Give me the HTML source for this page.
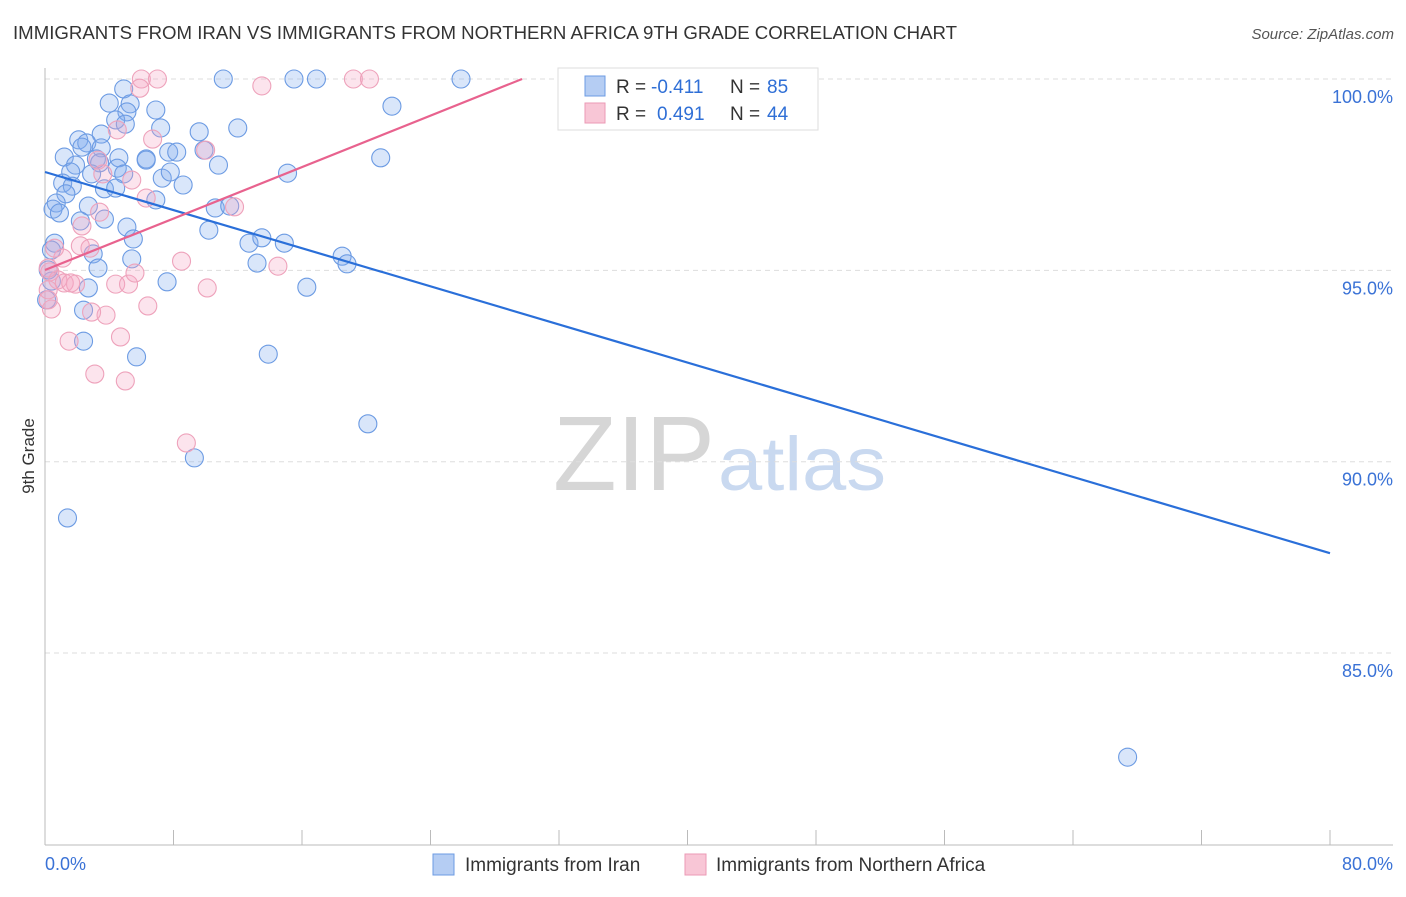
<!DOCTYPE html>
<html><head><meta charset="utf-8"><style>
body{margin:0;background:#fff;font-family:"Liberation Sans",sans-serif}
svg text{font-family:"Liberation Sans",sans-serif}
</style></head><body>
<svg id="chart" width="1406" height="892" viewBox="0 0 1406 892" xmlns="http://www.w3.org/2000/svg">
<text x="13" y="39" font-size="18" fill="#333" textLength="944" lengthAdjust="spacingAndGlyphs">IMMIGRANTS FROM IRAN VS IMMIGRANTS FROM NORTHERN AFRICA 9TH GRADE CORRELATION CHART</text>
<text x="1394" y="39" font-size="15" font-style="italic" fill="#555" text-anchor="end">Source: ZipAtlas.com</text>
<g>
<text x="553" y="490" font-size="106" font-family="Liberation Serif" fill="#d6d6d6" textLength="162" lengthAdjust="spacingAndGlyphs">ZIP</text>
<text x="718" y="490" font-size="76" fill="#c9d9f0" textLength="168" lengthAdjust="spacingAndGlyphs">atlas</text>
</g>
<g id="grid"></g>
<g id="axes"></g>
<g id="pts"></g>
<g id="lines"></g>
<text transform="translate(34,456) rotate(-90)" font-size="17" fill="#333" text-anchor="middle">9th Grade</text>
<g>
<rect x="558" y="68" width="260" height="62" fill="#fff" stroke="#ddd"/>
<rect x="585" y="76" width="20" height="20" fill="#b5cdf3" stroke="#6c9be3"/>
<rect x="585" y="103" width="20" height="20" fill="#f8c6d6" stroke="#eb9ab5"/>
<text x="616" y="93" font-size="19" fill="#333">R =</text>
<text x="651" y="93" font-size="19" fill="#2f6fd6">-0.411</text>
<text x="730" y="93" font-size="19" fill="#333">N =</text>
<text x="767" y="93" font-size="19" fill="#2f6fd6">85</text>
<text x="616" y="120" font-size="19" fill="#333">R =</text>
<text x="657" y="120" font-size="19" fill="#2f6fd6">0.491</text>
<text x="730" y="120" font-size="19" fill="#333">N =</text>
<text x="767" y="120" font-size="19" fill="#2f6fd6">44</text>
</g>
<g>
<rect x="433" y="854" width="21" height="21" fill="#b5cdf3" stroke="#6c9be3"/>
<text x="465" y="871" font-size="19" fill="#333">Immigrants from Iran</text>
<rect x="685" y="854" width="21" height="21" fill="#f8c6d6" stroke="#eb9ab5"/>
<text x="716" y="871" font-size="19" fill="#333">Immigrants from Northern Africa</text>
</g>
</svg>
<script>
const blueX=[4.9,4.0,5.3,6.9,5.1,4.4,5.0,3.5,2.1,2.6,2.3,3.5,1.2,3.2,4.6,6.3,1.9,3.4,4.5,1.6,2.9,4.9,1.1,1.7,3.7,4.4,1.3,0.7,0.5,0.9,2.7,2.2,3.7,5.1,0.6,0.4,3.0,5.4,3.3,2.7,2.4,2.4,5.7,1.4,11.1,15.5,16.9,25.9,21.6,9.6,12.0,7.2,7.7,8.2,6.3,9.9,10.8,8.6,7.3,7.8,6.9,10.6,11.5,10.2,12.7,13.5,14.9,13.2,18.5,18.8,15.1,20.9,7.6,16.3,13.9,20.1,9.3,67.4,0.4,0.2,5.5,0.1];
const blueY=[99.74,99.37,99.35,99.19,99.14,98.93,98.82,98.56,98.41,98.33,98.22,98.2,97.96,97.91,97.94,97.91,97.75,97.81,97.67,97.57,97.52,97.52,97.28,97.2,97.13,97.15,97.0,96.76,96.6,96.5,96.68,96.29,96.34,96.13,95.71,95.53,95.43,95.3,95.06,94.54,93.96,93.15,92.74,88.53,100,100,100,100,99.29,98.62,98.72,98.72,98.09,98.09,97.88,98.14,97.75,97.23,97.41,97.57,96.84,96.63,96.68,96.05,95.71,95.85,95.71,95.19,95.37,95.17,97.54,97.94,94.7,94.56,92.81,90.99,90.1,82.28,94.72,95.01,95.82,94.23];
const pinkX=[6.0,7.0,19.2,20.2,39.3,13.5,5.9,4.5,6.7,10.0,11.8,5.4,6.3,3.3,3.6,3.4,2.3,2.2,2.8,1.1,0.3,0.8,1.2,1.9,4.4,5.2,5.6,8.5,14.5,10.1,6.4,3.8,2.9,1.5,4.7,3.1,5.0,8.8,0.4,0.2,0.6,0.2,1.6,0.2];
const pinkY=[100,100,100,100,100,99.82,99.76,98.67,98.43,98.14,96.66,97.36,96.89,97.88,97.52,96.52,96.16,95.64,95.58,95.32,94.96,94.75,94.67,94.64,94.64,94.64,94.93,95.24,95.11,94.54,94.07,93.83,93.91,93.15,93.26,92.29,92.11,90.49,93.99,94.23,95.58,95.06,94.67,94.49];
const blueTrend=[0,97.57,80,87.61];
const pinkTrend=[0,95.01,29.7,100];
const yTicks=[100,95,90,85];
const xTickLabels=["0.0%","80.0%"];
const NS="http://www.w3.org/2000/svg";
const sx=v=>45+v*(1285/80);
const sy=v=>79+(100-v)*38.27;
function mk(tag,attrs,parent){const e=document.createElementNS(NS,tag);for(const k in attrs)e.setAttribute(k,attrs[k]);parent.appendChild(e);return e;}
const grid=document.getElementById('grid'),axes=document.getElementById('axes'),pts=document.getElementById('pts'),lines=document.getElementById('lines');
yTicks.forEach(t=>{
 const l=mk('line',{x1:45,x2:1393,y1:sy(t),y2:sy(t),stroke:'#ddd','stroke-dasharray':'5,4'},grid);
 
 
 const tx=mk('text',{x:1393,y:sy(t)+24,'font-size':18,fill:'#3a72d6','text-anchor':'end'},axes);
 tx.textContent=t.toFixed(1)+'%';
 
 
});
const ya=mk('line',{x1:45,x2:45,y1:68,y2:845,stroke:'#bbb'},axes);


const xa=mk('line',{x1:45,x2:1393,y1:845,y2:845,stroke:'#bbb'},axes);


for(let i=0;i<=10;i++){
 const tk=mk('line',{x1:sx(i*8),x2:sx(i*8),y1:830,y2:845,stroke:'#bbb'},axes);
 
 
}
const xl0=mk('text',{x:45,y:870,'font-size':18,fill:'#3a72d6'},axes);xl0.textContent=xTickLabels[0];


const xl1=mk('text',{x:1393,y:870,'font-size':18,fill:'#3a72d6','text-anchor':'end'},axes);xl1.textContent=xTickLabels[1];


blueX.forEach((x,i)=>{
 const c=mk('circle',{cx:sx(x),cy:sy(blueY[i]),r:9,fill:'rgba(130,172,238,0.3)',stroke:'#6c9be3','stroke-width':1.1},pts);
 
 
});
pinkX.forEach((x,i)=>{
 const c=mk('circle',{cx:sx(x),cy:sy(pinkY[i]),r:9,fill:'rgba(245,165,195,0.3)',stroke:'#eea2bb','stroke-width':1.1},pts);
 
 
});
const bl=mk('line',{x1:sx(blueTrend[0]),y1:sy(blueTrend[1]),x2:sx(blueTrend[2]),y2:sy(blueTrend[3]),stroke:'#2a6fd9','stroke-width':2.2},lines);


const pl=mk('line',{x1:sx(pinkTrend[0]),y1:sy(pinkTrend[1]),x2:sx(pinkTrend[2]),y2:sy(pinkTrend[3]),stroke:'#e8628e','stroke-width':2.2},lines);


</script>
</body></html>
